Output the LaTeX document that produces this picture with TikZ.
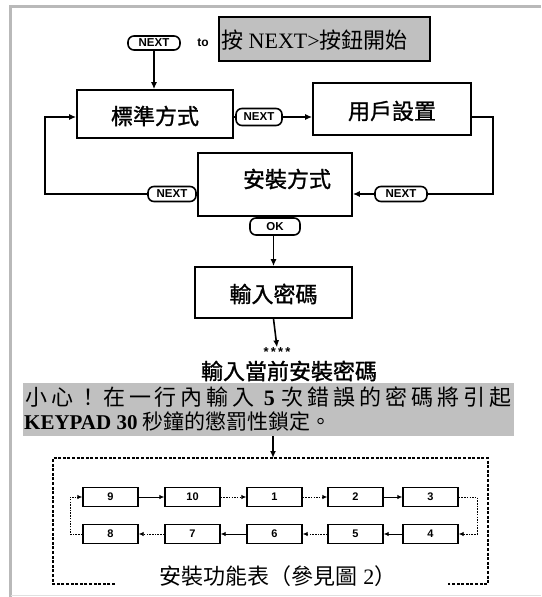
\documentclass[tikz,border=0pt]{standalone}
\usepackage{fontspec}
\setmainfont{Liberation Serif}
\setsansfont{Liberation Sans}
\newfontfamily\cjk{Noto Sans CJK TC}
\newfontfamily\cjkm[FakeBold=1.2]{Noto Sans CJK TC}
\newfontfamily\cjkw[LetterSpace=18]{Noto Sans CJK TC}
\usetikzlibrary{arrows.meta}
\definecolor{bandgray}{RGB}{192,192,192}
\definecolor{framegray}{RGB}{185,185,185}
\begin{document}
\begin{tikzpicture}[x=1pt,y=-1pt,
  box/.style={draw, line width=1.6pt, fill=white, inner sep=0pt},
  pill/.style={draw, line width=1.6pt, rounded corners=6pt, fill=white, inner sep=0pt, font=\sffamily\bfseries\fontsize{11.5}{11.5}\selectfont},
  ln/.style={line width=1.6pt},
  arr/.style={line width=1.6pt, -{Latex[length=7pt,width=6pt]}},
  sbox/.style={draw, line width=1.4pt, minimum width=55pt, minimum height=19pt, inner sep=0pt, font=\sffamily\bfseries\fontsize{11}{11}\selectfont},
  sarr/.style={line width=0.9pt, -{Latex[length=5pt,width=4.5pt]}},
  sdot/.style={line width=0.9pt, dash pattern=on 1.5pt off 1.2pt, -{Latex[length=5pt,width=4.5pt]}},
  bigtxt/.style={font=\cjkm\fontsize{22}{22}\selectfont, inner sep=0pt}
]
\useasboundingbox (0,0) rectangle (541,597);
% outer gray frame
\draw[framegray, line width=3pt] (10.5,597) -- (10.5,6.5) -- (541,6.5);
\draw[black!12, line width=1pt] (10.5,595) -- (541,595);

% top
\node[pill, minimum width=52pt, minimum height=14pt] (p1) at (154,43) {NEXT};
\node[font=\sffamily\bfseries\fontsize{12}{12}\selectfont, inner sep=0pt] (to) at (203,43) {to};
\node[draw, line width=1.1pt, fill=bandgray, minimum width=211pt, minimum height=44pt, inner sep=0pt] (gbox) at (324.5,39) {};
\node[anchor=west, inner sep=0pt, font=\fontsize{22}{22}\selectfont] (gtxt) at (221,40) {{\cjk 按} NEXT>{\cjk 按鈕開始}};

% main boxes
\node[box, minimum width=156pt, minimum height=48pt] (std) at (155,114) {};
\node[bigtxt] (stdt) at (155,116) {標準方式};
\node[box, minimum width=158pt, minimum height=52pt] (usr) at (392,109) {};
\node[bigtxt] (usrt) at (392,111) {用戶設置};
\node[box, minimum width=154pt, minimum height=63pt] (inst) at (275,184.5) {};
\node[bigtxt] (instt) at (287,179) {安裝方式};
\node[box, minimum width=157pt, minimum height=51pt] (pw) at (273.5,292.5) {};
\node[bigtxt] (pwt) at (273.5,294) {輸入密碼};

% pills
\node[pill, minimum width=46pt, minimum height=17pt] (p2) at (259,117) {NEXT};
\node[pill, minimum width=52pt, minimum height=15pt] (p3) at (401,194) {NEXT};
\node[pill, minimum width=48pt, minimum height=15pt] (p4) at (172,194) {NEXT};
\node[pill, minimum width=50pt, minimum height=17pt] (ok) at (275,226.5) {OK};

\coordinate (rx) at (493,0);
\coordinate (lx) at (45,0);

% connectors
\draw[arr] (p1.south) -- (p1.south |- std.north);
\draw[ln] (std.east |- p2.west) -- (p2.west);
\draw[arr] (p2.east) -- (p2.east -| usr.west);
\draw[ln] (usr.east |- p2.east) -- (rx |- p2.east) -- (rx |- p3.east) -- (p3.east);
\draw[arr] (p3.west) -- (p3.west -| inst.east);
\draw[ln] (inst.west |- p4.east) -- (p4.east);
\draw[arr] (p4.west) -- (lx |- p4.west) -- (lx |- p2.west) -- (std.west |- p2.west);
\draw[ln] (ok.north -| inst.south) -- (inst.south);
\draw[arr] (ok.south -| pw.north) -- (pw.north);

% password entry
\node[inner sep=0pt, font=\sffamily\bfseries\fontsize{13}{13}\selectfont] (stars) at (277,352) {*\,*\,*\,*};
\draw[arr] (pw.south) -- (stars.north);
\node[bigtxt] (cur) at (289,371) {輸入當前安裝密碼};

% warning band
\node[fill=bandgray, minimum width=491pt, minimum height=53pt, inner sep=0pt] (band) at (268.5,409.5) {};
\node[anchor=west, inner sep=0pt, font=\fontsize{22}{22}\selectfont] (w1) at (25,397) {{\cjkw 小心！在一行內輸入}\hspace{5pt}\textbf{5}\hspace{7pt}{\cjkw 次錯誤的密碼將引起}};
\node[anchor=west, inner sep=0pt, font=\fontsize{21}{21}\selectfont] (w2) at (24,421) {\textbf{KEYPAD 30} {\cjk 秒鐘的懲罰性鎖定。}};

% dashed menu frame
\coordinate (fb) at (273,458);
\draw[arr] (band.south -| fb) -- (fb);
\draw[line width=2.6pt, dash pattern=on 3pt off 1.6pt] (115,584) -- (53,584) -- (53,458) -- (488,458) -- (488,584) -- (448,584);
\node[inner sep=0pt, font=\fontsize{22}{22}\selectfont] (menu) at (278,576) {{\cjk 安裝功能表（參見圖} 2{\cjk ）}};

% inner menu boxes
\node[sbox] (b9)  at (110.5,497) {9};
\node[sbox] (b10) at (192.5,497) {10};
\node[sbox] (b1)  at (274.5,497) {1};
\node[sbox] (b2)  at (355.5,497) {2};
\node[sbox] (b3)  at (430.5,497) {3};
\node[sbox] (b8)  at (110.5,534) {8};
\node[sbox] (b7)  at (192.5,534) {7};
\node[sbox] (b6)  at (274.5,534) {6};
\node[sbox] (b5)  at (355.5,534) {5};
\node[sbox] (b4)  at (430.5,534) {4};
\coordinate (mr) at (477,0);
\coordinate (ml) at (70,0);
\draw[sarr] (b9) -- (b10);
\draw[sdot] (b10) -- (b1);
\draw[sdot] (b1) -- (b2);
\draw[sarr] (b2) -- (b3);
\draw[sdot] (b3.east) -- (mr |- b3.east) -- (mr |- b4.east) -- (b4.east);
\draw[sarr] (b4) -- (b5);
\draw[sdot] (b5) -- (b6);
\draw[sarr] (b6) -- (b7);
\draw[sdot] (b7) -- (b8);
\draw[sdot] (b8.west) -- (ml |- b8.west) -- (ml |- b9.west) -- (b9.west);
\end{tikzpicture}
\end{document}
